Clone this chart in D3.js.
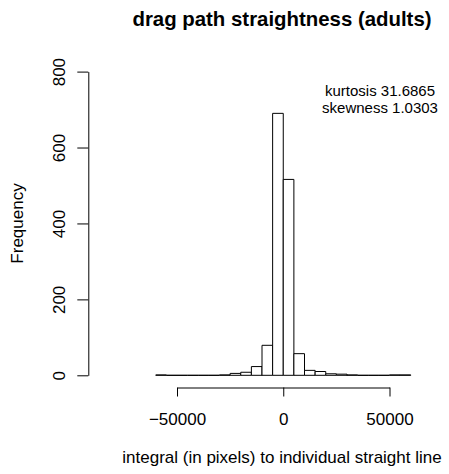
<!DOCTYPE html>
<html>
<head>
<meta charset="utf-8">
<script src="https://cdn.jsdelivr.net/npm/d3@7"></script>
<style>
  html, body { margin: 0; padding: 0; background: #fff; }
  svg { display: block; }
  text { font-family: "Liberation Sans", Arial, Helvetica, sans-serif; fill: #000; }
</style>
</head>
<body>
<svg id="chart" width="449" height="474"></svg>
<script>
// Histogram bins (lower edges, width 5000) and their counts
const binStarts = [-60000, -55000, -50000, -45000, -40000, -35000, -30000, -25000,
                   -20000, -15000, -10000, -5000, 0, 5000, 10000, 15000,
                   20000, 25000, 30000, 35000, 40000, 45000, 50000, 55000];
const binWidth = 5000;
const counts = [1, 0, 0, 0, 0, 0, 1, 5,
                8, 23, 79, 690, 516, 57, 13, 10,
                4, 3, 1, 0, 0, 0, 1, 1];

const xTicks = [-50000, 0, 50000];
const yTicks = [0, 200, 400, 600, 800];

const titleText = "drag path straightness (adults)";
const xLabel = "integral (in pixels) to individual straight line";
const yLabel = "Frequency";
const statLines = ["kurtosis 31.6865", "skewness 1.0303"];

const svg = d3.select("#chart");
svg.append("rect").attr("width", 449).attr("height", 474).attr("fill", "#fff");

const x = d3.scaleLinear().domain([-50000, 50000]).range([177, 389.5]);
const y = d3.scaleLinear().domain([0, 800]).range([375.3, 71.6]);

const bins = binStarts.map((s, i) => ({ x0: s, x1: s + binWidth, n: counts[i] }));

// bars drawn as closed paths so empty bins still show as a flat line
svg.append("g")
  .selectAll("path")
  .data(bins)
  .join("path")
  .attr("d", d => {
    const l = x(d.x0), r = x(d.x1), t = y(d.n), b = y(0);
    return `M${l},${b}H${r}V${t}H${l}Z`;
  })
  .attr("fill", "#fff")
  .attr("stroke", "#000")
  .attr("stroke-width", 1);

// x axis
const gx = svg.append("g")
  .attr("transform", "translate(0,387.5)")
  .call(d3.axisBottom(x).tickValues(xTicks).tickSizeInner(9).tickSizeOuter(0)
        .tickPadding(16.5).tickFormat(d3.format("d")));
gx.selectAll("text").attr("font-size", 17).attr("font-family", "Liberation Sans, Arial, sans-serif");

// y axis with rotated tick labels
const gy = svg.append("g")
  .attr("transform", "translate(88.3,0)")
  .call(d3.axisLeft(y).tickValues(yTicks).tickSizeInner(11).tickSizeOuter(0)
        .tickFormat(d3.format("d")));
gy.selectAll("text")
  .attr("font-size", 17)
  .attr("font-family", "Liberation Sans, Arial, sans-serif")
  .attr("transform", "rotate(-90)")
  .attr("x", 0)
  .attr("y", -23.3)
  .attr("dy", null)
  .attr("text-anchor", "middle");

svg.selectAll(".domain, .tick line").attr("stroke", "#000").attr("stroke-width", 1);

// titles
svg.append("text")
  .attr("x", 282).attr("y", 26)
  .attr("text-anchor", "middle")
  .attr("font-size", 20.4).attr("font-weight", "bold")
  .text(titleText);

svg.append("text")
  .attr("x", 282).attr("y", 462.7)
  .attr("text-anchor", "middle")
  .attr("font-size", 17)
  .text(xLabel);

svg.append("text")
  .attr("transform", "translate(23,223.5) rotate(-90)")
  .attr("text-anchor", "middle")
  .attr("font-size", 17)
  .text(yLabel);

// distribution statistics, two stacked lines
svg.append("g")
  .selectAll("text")
  .data(statLines)
  .join("text")
  .attr("x", 380)
  .attr("y", (d, i) => 96 + i * 16.5)
  .attr("text-anchor", "middle")
  .attr("font-size", 15)
  .text(d => d);
</script>
</body>
</html>
